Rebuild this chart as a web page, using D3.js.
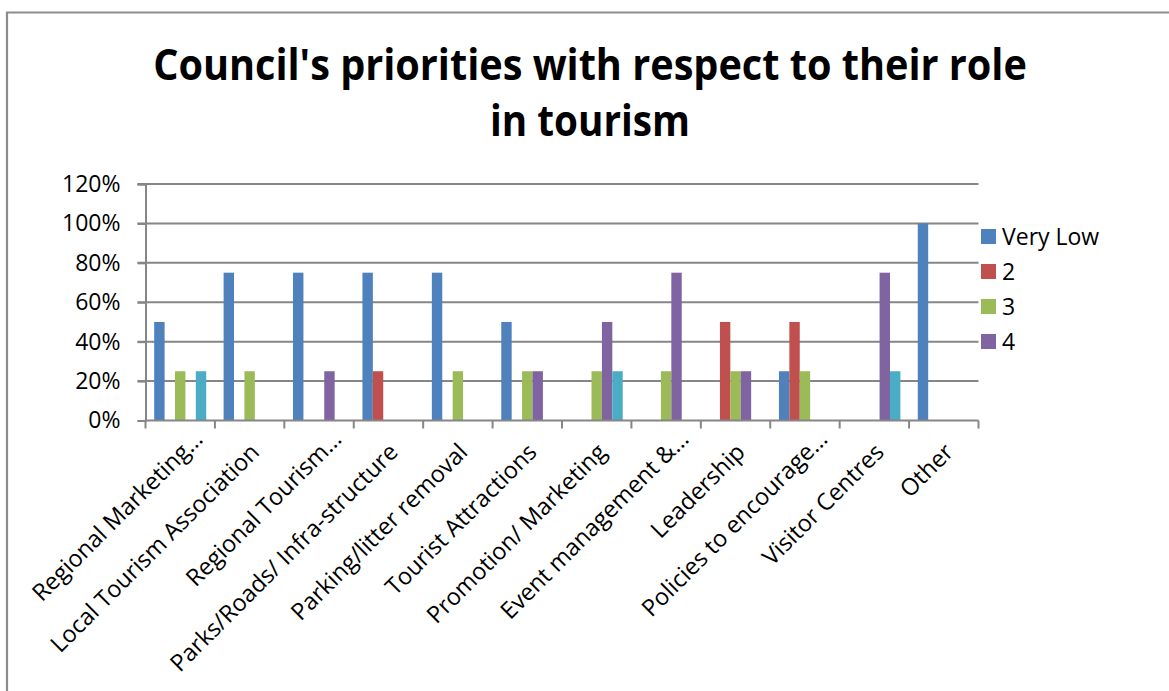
<!DOCTYPE html>
<html>
<head>
<meta charset="utf-8">
<script src="https://cdn.jsdelivr.net/npm/d3@7/dist/d3.min.js"></script>
<style>
  html, body { margin: 0; padding: 0; background: #fff; }
  svg { display: block; }
  text { font-family: "Open Sans", "Noto Sans", sans-serif; fill: #000; }
</style>
</head>
<body>
<svg id="chart" width="1169" height="691"></svg>
<script>
// Priority areas surveyed
const categories = [
  "Regional Marketing…",
  "Local Tourism Association",
  "Regional Tourism…",
  "Parks/Roads/ Infra-structure",
  "Parking/litter removal",
  "Tourist Attractions",
  "Promotion/ Marketing",
  "Event management &…",
  "Leadership",
  "Policies to encourage…",
  "Visitor Centres",
  "Other"
];

// Share of councils giving each rating (fractions)
const veryLow = [0.50, 0.75, 0.75, 0.75, 0.75, 0.50, 0, 0, 0, 0.25, 0, 1.00];
const two     = [0, 0, 0, 0.25, 0, 0, 0, 0, 0.50, 0.50, 0, 0];
const three   = [0.25, 0.25, 0, 0, 0.25, 0.25, 0.25, 0.25, 0.25, 0.25, 0, 0];
const four    = [0, 0, 0.25, 0, 0, 0.25, 0.50, 0.75, 0.25, 0, 0.75, 0];
const five    = [0.25, 0, 0, 0, 0, 0, 0.25, 0, 0, 0, 0.25, 0];

const seriesNames = ["Very Low", "2", "3", "4", "5"];
const seriesValues = [veryLow, two, three, four, five];
const seriesColors = ["#4f81bd", "#c0504d", "#9bbb59", "#8064a2", "#4bacc6"];
const legendCount = 4; // legend box only has room for the first four entries

const yTicks = [0, 0.2, 0.4, 0.6, 0.8, 1.0, 1.2];

const svg = d3.select("#chart");

// Outer chart frame (left and top edges visible)
svg.append("path")
  .attr("d", "M7,691 V12.5 H1169")
  .attr("fill", "none")
  .attr("stroke", "#8c8c8c")
  .attr("stroke-width", 2.2);

// Title
const title = svg.append("g").attr("font-weight", "bold");
const titleLines = ["Council's priorities with respect to their role", "in tourism"];
const titleY = [80, 136];
const titleWidths = [874, 200];
titleLines.forEach((t, i) => {
  title.append("text")
    .attr("x", 590)
    .attr("y", titleY[i])
    .attr("text-anchor", "middle")
    .attr("font-size", 43)
    .attr("font-family", "'Open Sans', sans-serif")
    .text(t);
});
// condense the title horizontally to a Calibri-like width
title.selectAll("text").each(function(d, i) {
  const w = this.getComputedTextLength();
  const s = titleWidths[i] / w;
  d3.select(this).attr("transform", `translate(${590 * (1 - s)},0) scale(${s},1)`);
});

// Plot area
const plot = { left: 145.5, right: 978.5, top: 184, bottom: 420.5 };

const x0 = d3.scaleBand()
  .domain(categories)
  .range([plot.left, plot.right])
  .paddingInner(0)
  .paddingOuter(0);

const x1 = d3.scaleBand()
  .domain(seriesNames)
  .range([0, x0.bandwidth()])
  .paddingOuter(0.835)
  .paddingInner(0);

const y = d3.scaleLinear().domain([0, 1.2]).range([plot.bottom, plot.top]);

// Horizontal gridlines
svg.append("g")
  .selectAll("line")
  .data(yTicks.slice(1))
  .join("line")
  .attr("x1", plot.left - 8)
  .attr("x2", plot.right)
  .attr("y1", d => y(d))
  .attr("y2", d => y(d))
  .attr("stroke", "#868686")
  .attr("stroke-width", 2);

// Y axis
const yAxis = svg.append("g")
  .attr("transform", `translate(${plot.left},0)`)
  .call(d3.axisLeft(y).tickValues(yTicks).tickFormat(d3.format(".0%")).tickSize(8).tickPadding(17));
yAxis.select(".domain").attr("stroke", "#868686").attr("stroke-width", 2);
yAxis.selectAll(".tick line").attr("stroke", "#868686").attr("stroke-width", 2);
yAxis.selectAll(".tick text")
  .attr("font-size", 23)
  .attr("font-family", "'Open Sans', sans-serif")
  .attr("fill", "#000");

// Bars
const groups = svg.append("g")
  .selectAll("g")
  .data(categories)
  .join("g")
  .attr("transform", d => `translate(${x0(d)},0)`);

groups.selectAll("rect")
  .data((c, ci) => seriesNames.map((s, si) => ({ s, si, v: seriesValues[si][ci] })).filter(d => d.v > 0))
  .join("rect")
  .attr("x", d => x1(d.s))
  .attr("width", x1.bandwidth())
  .attr("y", d => y(d.v))
  .attr("height", d => y(0) - y(d.v))
  .attr("fill", d => seriesColors[d.si]);

// X axis with ticks at category boundaries
const xAxisG = svg.append("g").attr("transform", `translate(0,${plot.bottom})`);
xAxisG.append("line")
  .attr("x1", plot.left).attr("x2", plot.right)
  .attr("y1", 0).attr("y2", 0)
  .attr("stroke", "#868686").attr("stroke-width", 2);
const bounds = categories.map(c => x0(c)).concat([plot.right]);
xAxisG.selectAll("line.tk")
  .data(bounds)
  .join("line")
  .attr("class", "tk")
  .attr("x1", d => d).attr("x2", d => d)
  .attr("y1", 0).attr("y2", 8)
  .attr("stroke", "#868686").attr("stroke-width", 2);

// Rotated category labels; a trailing ellipsis hangs past the anchor point
const catLabels = xAxisG.selectAll("g.cat")
  .data(categories)
  .join("g")
  .attr("class", "cat")
  .attr("transform", d => `translate(${x0(d) + x0.bandwidth() / 2 + 11},${33}) rotate(-45)`);
catLabels.append("text")
  .attr("text-anchor", "end")
  .attr("font-size", 23.5)
  .attr("font-family", "'Open Sans', sans-serif")
  .text(d => d.replace(/…$/, ""));
catLabels.filter(d => d.endsWith("…"))
  .append("text")
  .attr("text-anchor", "start")
  .attr("font-size", 23.5)
  .attr("font-family", "'Open Sans', sans-serif")
  .text("…");

// Legend
const legend = svg.append("g").attr("transform", "translate(981,229)");
const legendItems = legend.selectAll("g")
  .data(seriesNames.slice(0, legendCount))
  .join("g")
  .attr("transform", (d, i) => `translate(0,${i * 35})`);
legendItems.append("rect")
  .attr("width", 15).attr("height", 15)
  .attr("fill", (d, i) => seriesColors[i]);
legendItems.append("text")
  .attr("x", 21).attr("y", 16)
  .attr("font-size", 23)
  .attr("font-family", "'Open Sans', sans-serif")
  .text(d => d);
</script>
</body>
</html>
